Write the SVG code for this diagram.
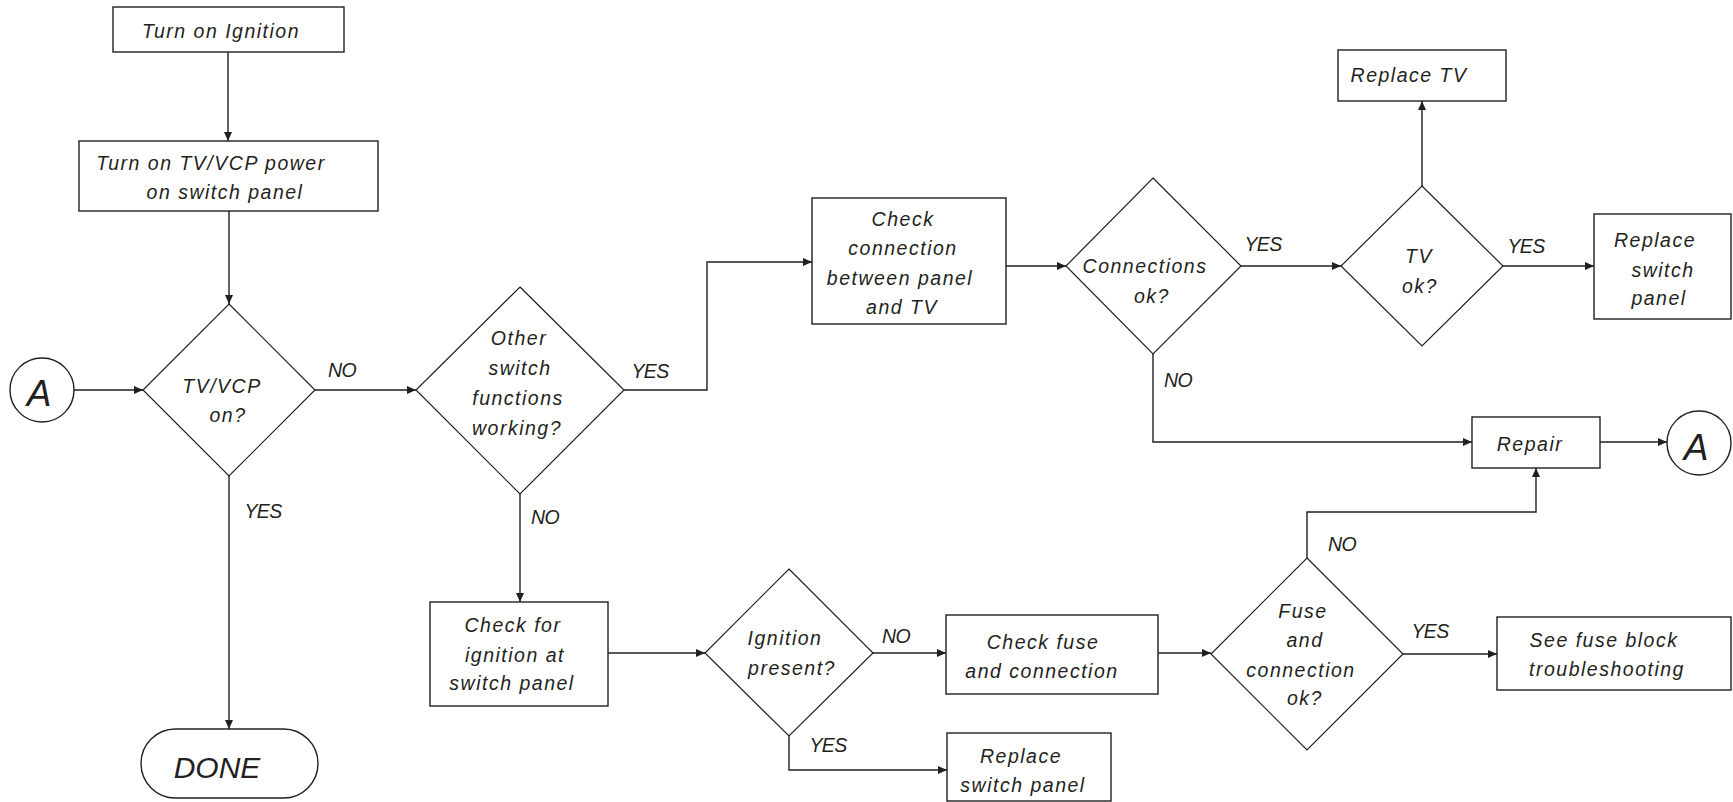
<svg xmlns="http://www.w3.org/2000/svg" width="1733" height="802" viewBox="0 0 1733 802">
<style>
  .shape { fill: #ffffff; stroke: #231f20; stroke-width: 1.4; }
  .dia { fill: #ffffff; stroke: #231f20; stroke-width: 1.2; }
  .conn { fill: none; stroke: #231f20; stroke-width: 1.4; marker-end: url(#arrow); }
  .t { font-family: "Liberation Sans", Arial, sans-serif; font-style: italic; font-size: 19.5px; letter-spacing: 1.5px; fill: #231f20; text-anchor: middle; }
  .lbl { font-family: "Liberation Sans", Arial, sans-serif; font-style: italic; font-size: 19.5px; letter-spacing: -0.6px; fill: #231f20; text-anchor: middle; }
  .big { font-family: "Liberation Sans", Arial, sans-serif; font-style: italic; font-size: 37px; fill: #231f20; text-anchor: middle; }
  .done { font-family: "Liberation Sans", Arial, sans-serif; font-style: italic; font-size: 30px; fill: #231f20; text-anchor: middle; }
</style>
<defs>
  <marker id="arrow" viewBox="0 0 9 8" refX="9" refY="4" markerWidth="9" markerHeight="8" markerUnits="userSpaceOnUse" orient="auto">
    <path d="M0,0 L9,4 L0,8 z" fill="#231f20"/>
  </marker>
</defs>
<rect width="1733" height="802" fill="#ffffff"/>

<g id="connectors">
  <path class="conn" d="M228,52 L228,141"/>
  <path class="conn" d="M229,211 L229,304"/>
  <path class="conn" d="M74,390 L143,390"/>
  <path class="conn" d="M315,390 L416,390"/>
  <path class="conn" d="M229,476 L229,729"/>
  <path class="conn" d="M624,390 L707,390 L707,262 L812,262"/>
  <path class="conn" d="M520,494 L520,602"/>
  <path class="conn" d="M1006,266 L1066,266"/>
  <path class="conn" d="M1241,266 L1341,266"/>
  <path class="conn" d="M1153,354 L1153,442 L1472,442"/>
  <path class="conn" d="M1422,186 L1422,101"/>
  <path class="conn" d="M1503,266 L1594,266"/>
  <path class="conn" d="M1600,442 L1667,442"/>
  <path class="conn" d="M608,653 L705,653"/>
  <path class="conn" d="M873,653 L946,653"/>
  <path class="conn" d="M789,736 L789,770 L947,770"/>
  <path class="conn" d="M1158,653 L1211,653"/>
  <path class="conn" d="M1307,558 L1307,512 L1536,512 L1536,468"/>
  <path class="conn" d="M1403,654 L1497,654"/>
</g>

<g id="labels">
  <text class="lbl" x="342" y="377">NO</text>
  <text class="lbl" x="263" y="518">YES</text>
  <text class="lbl" x="650" y="378">YES</text>
  <text class="lbl" x="545" y="524">NO</text>
  <text class="lbl" x="1263" y="251">YES</text>
  <text class="lbl" x="1178" y="387">NO</text>
  <text class="lbl" x="1526" y="253">YES</text>
  <text class="lbl" x="896" y="643">NO</text>
  <text class="lbl" x="828" y="752">YES</text>
  <text class="lbl" x="1342" y="551">NO</text>
  <text class="lbl" x="1430" y="638">YES</text>
</g>

<g id="n_ignition">
  <rect class="shape" x="113" y="7" width="231" height="45"/>
  <text class="t" x="221" y="38">Turn on Ignition</text>
</g>
<g id="n_power">
  <rect class="shape" x="79" y="141" width="299" height="70"/>
  <text class="t" x="211" y="170">Turn on TV/VCP power</text>
  <text class="t" x="225" y="199">on switch panel</text>
</g>
<g id="n_tvvcp">
  <polygon class="dia" points="229,304 315,390 229,476 143,390"/>
  <text class="t" x="222" y="393">TV/VCP</text>
  <text class="t" x="228" y="422">on?</text>
</g>
<g id="n_a_in">
  <circle class="shape" cx="42" cy="390" r="32"/>
  <text class="big" x="39" y="406">A</text>
</g>
<g id="n_done">
  <rect class="shape" x="141" y="729" width="177" height="69" rx="34.5" ry="34.5"/>
  <text class="done" x="217" y="778">DONE</text>
</g>
<g id="n_other">
  <polygon class="dia" points="520,287 624,390 520,494 416,390"/>
  <text class="t" x="519" y="345">Other</text>
  <text class="t" x="520" y="375">switch</text>
  <text class="t" x="518" y="405">functions</text>
  <text class="t" x="517" y="435">working?</text>
</g>
<g id="n_checkconn">
  <rect class="shape" x="812" y="198" width="194" height="126"/>
  <text class="t" x="903" y="226">Check</text>
  <text class="t" x="903" y="255">connection</text>
  <text class="t" x="900" y="285">between panel</text>
  <text class="t" x="902" y="314">and TV</text>
</g>
<g id="n_connok">
  <polygon class="dia" points="1153,178 1241,266 1153,354 1066,266"/>
  <text class="t" x="1145" y="273">Connections</text>
  <text class="t" x="1152" y="303">ok?</text>
</g>
<g id="n_tvok">
  <polygon class="dia" points="1422,186 1503,266 1422,346 1341,266"/>
  <text class="t" x="1419" y="263">TV</text>
  <text class="t" x="1420" y="293">ok?</text>
</g>
<g id="n_replacetv">
  <rect class="shape" x="1338" y="50" width="168" height="51"/>
  <text class="t" x="1409" y="82">Replace TV</text>
</g>
<g id="n_replacesp1">
  <rect class="shape" x="1594" y="214" width="137" height="105"/>
  <text class="t" x="1655" y="247">Replace</text>
  <text class="t" x="1663" y="277">switch</text>
  <text class="t" x="1659" y="305">panel</text>
</g>
<g id="n_repair">
  <rect class="shape" x="1472" y="417" width="128" height="51"/>
  <text class="t" x="1530" y="451">Repair</text>
</g>
<g id="n_a_out">
  <circle class="shape" cx="1699" cy="443" r="32"/>
  <text class="big" x="1696" y="460">A</text>
</g>
<g id="n_checkign">
  <rect class="shape" x="430" y="602" width="178" height="104"/>
  <text class="t" x="513" y="632">Check for</text>
  <text class="t" x="515" y="662">ignition at</text>
  <text class="t" x="512" y="690">switch panel</text>
</g>
<g id="n_ignpresent">
  <polygon class="dia" points="789,569 873,653 789,736 705,653"/>
  <text class="t" x="785" y="645">Ignition</text>
  <text class="t" x="792" y="675">present?</text>
</g>
<g id="n_checkfuse">
  <rect class="shape" x="946" y="615" width="212" height="79"/>
  <text class="t" x="1043" y="649">Check fuse</text>
  <text class="t" x="1042" y="678">and connection</text>
</g>
<g id="n_fuseok">
  <polygon class="dia" points="1307,558 1403,654 1307,750 1211,654"/>
  <text class="t" x="1303" y="618">Fuse</text>
  <text class="t" x="1305" y="647">and</text>
  <text class="t" x="1301" y="677">connection</text>
  <text class="t" x="1305" y="705">ok?</text>
</g>
<g id="n_seefuse">
  <rect class="shape" x="1497" y="617" width="234" height="73"/>
  <text class="t" x="1604" y="647">See fuse block</text>
  <text class="t" x="1607" y="676">troubleshooting</text>
</g>
<g id="n_replacesp2">
  <rect class="shape" x="947" y="733" width="164" height="68"/>
  <text class="t" x="1021" y="763">Replace</text>
  <text class="t" x="1023" y="792">switch panel</text>
</g>
</svg>
